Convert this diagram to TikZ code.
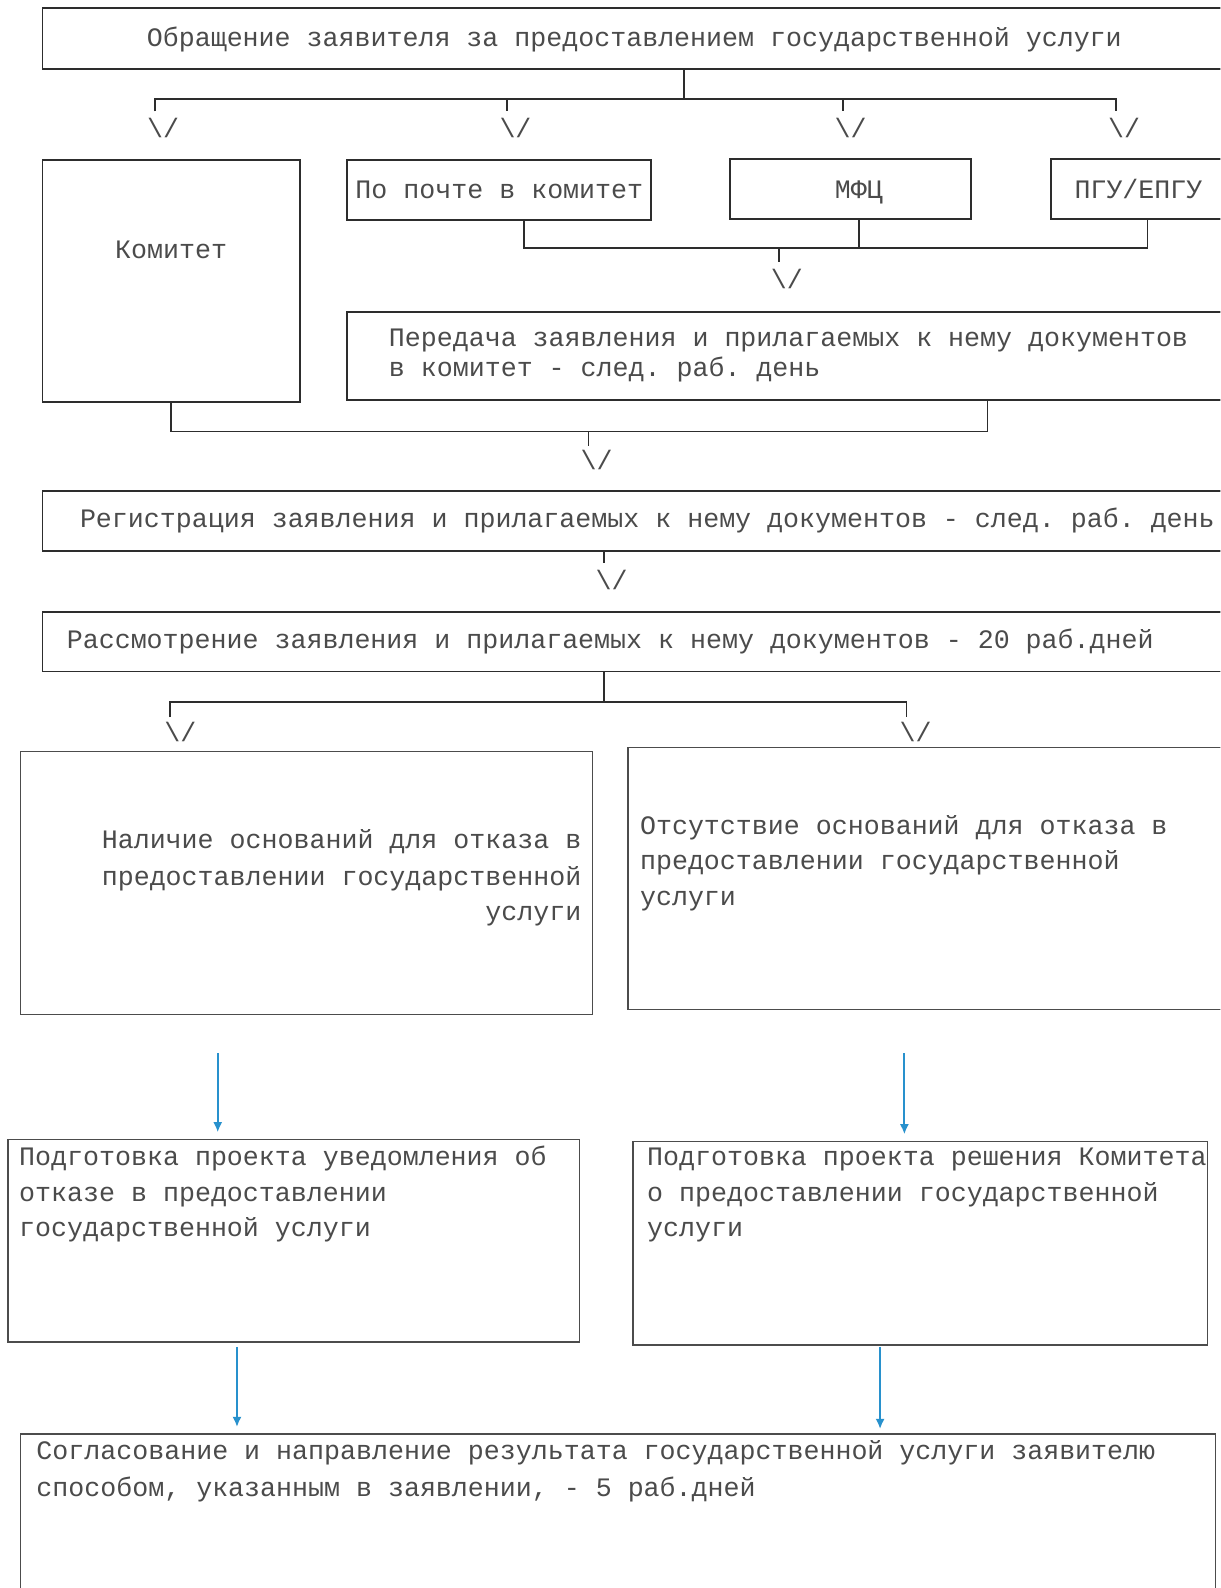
\documentclass[tikz,border=0pt]{standalone}
\usepackage{fontspec}
\setmonofont{Liberation Mono}
\usetikzlibrary{arrows.meta}
\definecolor{ln}{RGB}{45,45,45}
\definecolor{tx}{RGB}{75,75,75}
\definecolor{bl}{RGB}{40,145,205}
\tikzset{
  box/.style={draw=ln, line width=1.8pt, rectangle, inner sep=0pt, outer sep=0pt, anchor=north west},
  lbox/.style={box, line width=1.3pt, draw=ln!85},
  txt/.style={font=\ttfamily\fontsize{26.3pt}{30pt}\selectfont, text=tx, inner sep=0pt, outer sep=0pt, anchor=base west},
  rtxt/.style={txt, anchor=base east},
  ctxt/.style={txt, anchor=base},
  vmark/.style={txt, anchor=center},
  conn/.style={draw=ln, line width=1.8pt},
  barrow/.style={draw=bl, line width=2pt, -{Latex[length=10pt,width=9pt]}}
}
\begin{document}
\begin{tikzpicture}[x=1pt,y=-1pt]
\useasboundingbox (0,0) rectangle (1205,1568);
\fill[white] (0,0) rectangle (1205,1568);
\clip (0,0) rectangle (1205,1568);

% ---------- top box ----------
\node[box, minimum width=1200pt, minimum height=60pt] (top) at (42,8) {};
\node[txt] (t0) at (145,46) {Обращение заявителя за предоставлением государственной услуги};

% fork 1
\coordinate (f1) at (675,98);
\coordinate (d1) at (153,110);
\coordinate (d2) at (501,110);
\coordinate (d3) at (832,110);
\coordinate (d4) at (1102,110);
\draw[conn] (top.south -| f1) -- (f1);
\draw[conn] (d1) -- (d1 |- f1) -- (d4 |- f1) -- (d4);
\draw[conn] (d2 |- f1) -- (d2);
\draw[conn] (d3 |- f1) -- (d3);
\node[vmark] (v1) at (161,126) {\textbackslash/};
\node[vmark] (v2) at (509,126) {\textbackslash/};
\node[vmark] (v3) at (840,126) {\textbackslash/};
\node[vmark] (v4) at (1110,126) {\textbackslash/};

% ---------- row 2 ----------
\node[box, minimum width=254pt, minimum height=239pt] (kom) at (42,158) {};
\node[ctxt] (tkom) at (169,255) {Комитет};
\node[box, minimum width=300pt, minimum height=59pt] (pochta) at (343,158) {};
\node[txt] (tpochta) at (351,196) {По почте в комитет};
\node[box, minimum width=238pt, minimum height=59pt] (mfc) at (721,157) {};
\node[ctxt] (tmfc) at (848,196) {МФЦ};
\node[box, minimum width=200pt, minimum height=59pt] (pgu) at (1038,157) {};
\node[txt] (tpgu) at (1061,196) {ПГУ/ЕПГУ};

% join 2
\coordinate (g1) at (517,245);
\coordinate (g2) at (848,245);
\coordinate (g3) at (1133,245);
\coordinate (d5) at (769,259);
\draw[conn] (pochta.south -| g1) -- (g1) -- (g3) -- (pgu.south -| g3);
\draw[conn] (mfc.south -| g2) -- (g2);
\draw[conn] (d5 |- g1) -- (d5);
\node[vmark] (v5) at (777,275) {\textbackslash/};

% Передача
\node[box, minimum width=900pt, minimum height=87pt] (per) at (343,308) {};
\node[txt] (tper1) at (384,342) {Передача заявления и прилагаемых к нему документов};
\node[txt] (tper2) at (384,372) {в комитет - след. раб. день};

% join 3
\coordinate (h1) at (169,426);
\coordinate (h2) at (975,426);
\coordinate (d6) at (581,440);
\draw[conn] (kom.south -| h1) -- (h1) -- (h2) -- (per.south -| h2);
\draw[conn] (d6 |- h1) -- (d6);
\node[vmark] (v6) at (589,454) {\textbackslash/};

% Регистрация
\node[box, minimum width=1200pt, minimum height=59pt] (reg) at (42,485) {};
\node[txt] (treg) at (79,521) {Регистрация заявления и прилагаемых к нему документов - след. раб. день};
\coordinate (d7) at (596,556);
\draw[conn] (reg.south -| d7) -- (d7);
\node[vmark] (v7) at (604,573) {\textbackslash/};

% Рассмотрение
\node[box, minimum width=1200pt, minimum height=59pt] (ras) at (42,604) {};
\node[txt] (tras) at (66,640) {Рассмотрение заявления и прилагаемых к нему документов - 20 раб.дней};
\coordinate (j1) at (596,693);
\coordinate (d8) at (168,708);
\coordinate (d9) at (895,708);
\draw[conn] (ras.south -| j1) -- (j1);
\draw[conn] (d8) -- (d8 |- j1) -- (d9 |- j1) -- (d9);
\node[vmark] (v8) at (178,723) {\textbackslash/};
\node[vmark] (v9) at (904,723) {\textbackslash/};

% Наличие / Отсутствие
\node[lbox, minimum width=565pt, minimum height=260pt] (nal) at (20,742) {};
\node[rtxt] (tnal1) at (574,838) {Наличие оснований для отказа в};
\node[rtxt] (tnal2) at (574,874) {предоставлении государственной};
\node[rtxt] (tnal3) at (574,909) {услуги};
\node[lbox, minimum width=620pt, minimum height=259pt] (ots) at (620,738) {};
\node[txt] (tots1) at (632,824) {Отсутствие оснований для отказа в};
\node[txt] (tots2) at (632,859) {предоставлении государственной};
\node[txt] (tots3) at (632,894) {услуги};

% Подготовка
\node[lbox, minimum width=564pt, minimum height=200pt] (pu) at (8,1125) {};
\node[txt] (tpu1) at (19,1151) {Подготовка проекта уведомления об};
\node[txt] (tpu2) at (19,1186) {отказе в предоставлении};
\node[txt] (tpu3) at (19,1221) {государственной услуги};
\node[lbox, minimum width=567pt, minimum height=201pt] (pr) at (625,1127) {};
\node[txt] (tpr1) at (639,1151) {Подготовка проекта решения Комитета};
\node[txt] (tpr2) at (639,1186) {о предоставлении государственной};
\node[txt] (tpr3) at (639,1221) {услуги};

% Согласование
\node[lbox, minimum width=1180pt, minimum height=300pt] (sog) at (20,1416) {};
\node[txt] (tsog1) at (36,1441) {Согласование и направление результата государственной услуги заявителю};
\node[txt] (tsog2) at (36,1478) {способом, указанным в заявлении, - 5 раб.дней};

% blue arrows
\coordinate (bx1) at (215,0);
\coordinate (bx2) at (893,0);
\coordinate (bx3) at (234,0);
\coordinate (bx4) at (869,0);
\draw[barrow, shorten <=38pt, shorten >=7pt] (nal.south -| bx1) -- (pu.north -| bx1);
\draw[barrow, shorten <=43pt, shorten >=7pt] (ots.south -| bx2) -- (pr.north -| bx2);
\draw[barrow, shorten <=5pt, shorten >=7pt] (pu.south -| bx3) -- (sog.north -| bx3);
\draw[barrow, shorten <=2pt, shorten >=5pt] (pr.south -| bx4) -- (sog.north -| bx4);
\end{tikzpicture}
\end{document}
